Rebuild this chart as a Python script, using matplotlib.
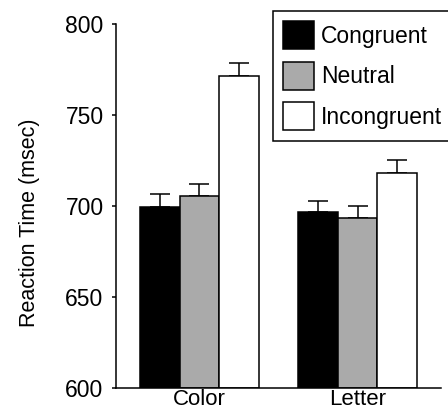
import numpy as np
import matplotlib
matplotlib.use("Agg")
import matplotlib.pyplot as plt

plt.rcParams["font.family"] = ["Liberation Sans", "DejaVu Sans"]

tasks = ["Color", "Letter"]
conditions = ["Congruent", "Neutral", "Incongruent"]
rt_means = {
    "Congruent": [699.3, 696.5],
    "Neutral": [705.5, 693.2],
    "Incongruent": [771.2, 718.4],
}
rt_err = {
    "Congruent": [7.1, 6.4],
    "Neutral": [6.6, 6.8],
    "Incongruent": [7.2, 6.8],
}
colors = {"Congruent": "black", "Neutral": "#aaaaaa", "Incongruent": "white"}

fig = plt.figure(figsize=(4.48, 4.13), dpi=100)
ax = fig.add_axes([116 / 448, 1 - 388 / 413, (441 - 116) / 448, (388 - 24) / 413])

x = np.arange(len(tasks)) * 4.0
w = 1.0
for i, cond in enumerate(conditions):
    pos = x + (i - 1) * w
    vals = np.array(rt_means[cond])
    err = np.array(rt_err[cond])
    ax.bar(pos, vals - 600, width=w, bottom=600, color=colors[cond],
           edgecolor="black", linewidth=1.1, label=cond, zorder=2)
    ax.errorbar(pos, vals, yerr=[np.zeros_like(err), err], fmt="none",
                ecolor="black", elinewidth=1.1, capsize=7, capthick=1.1, zorder=1)

ax.set_xlim(-2.11, 6.11)
ax.set_ylim(600, 800)
ax.set_yticks([600, 650, 700, 750, 800])
ax.set_xticks(x)
ax.set_xticklabels(tasks)
ax.tick_params(axis="x", length=0, labelsize=16, pad=0.5)
ax.tick_params(axis="y", length=3, width=1.1, labelsize=16.5, pad=6)
for s in ["top", "right"]:
    ax.spines[s].set_visible(False)
for s in ["left", "bottom"]:
    ax.spines[s].set_linewidth(1.1)

fig.text(30 / 448, 1 - 223 / 413, "Reaction Time (msec)", rotation=90,
         ha="center", va="center", fontsize=15.5)

leg = ax.legend(loc="upper left", bbox_to_anchor=(273 / 448, 1 - 11 / 413),
                bbox_transform=fig.transFigure, borderaxespad=0, fontsize=16.5,
                handlelength=1.35, handleheight=1.5, handletextpad=0.3,
                labelspacing=0.55, borderpad=0.45, fancybox=False, framealpha=1,
                edgecolor="black")
leg.get_frame().set_linewidth(1.1)

fig.savefig("out.png", dpi=100)
